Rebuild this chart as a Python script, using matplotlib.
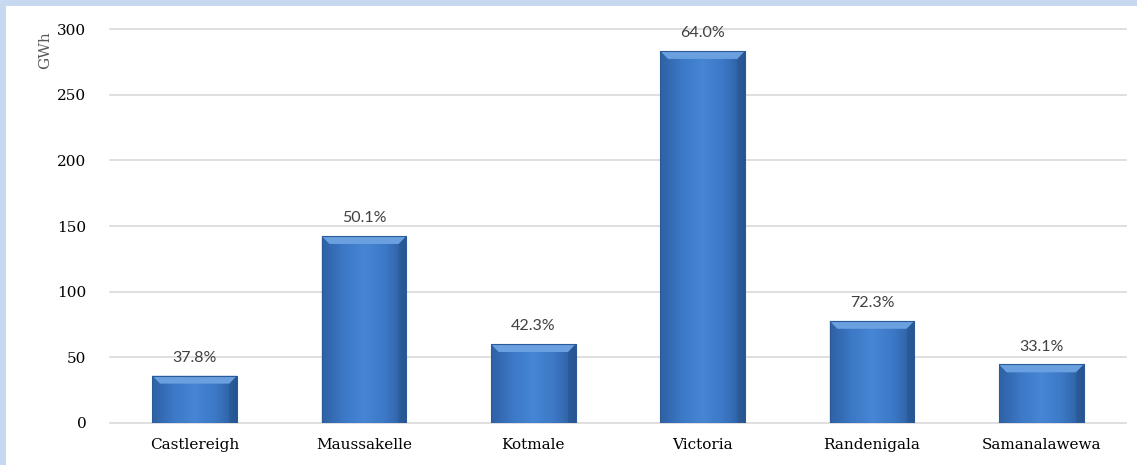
import matplotlib
matplotlib.use("Agg")
import matplotlib.pyplot as plt
import numpy as np
from matplotlib.colors import LinearSegmentedColormap
from matplotlib.patches import Polygon, Rectangle

categories = ["Castlereigh", "Maussakelle", "Kotmale", "Victoria", "Randenigala", "Samanalawewa"]
values = [35.8, 142.3, 59.9, 283.4, 77.6, 44.4]
pct_labels = ["37.8%", "50.1%", "42.3%", "64.0%", "72.3%", "33.1%"]
yticks = [0, 50, 100, 150, 200, 250, 300]

W, H = 1137, 465
fig = plt.figure(figsize=(W / 100, H / 100), dpi=100)
fig.patch.set_facecolor("#C6D9F0")
# white inner panel (blue strip only at left and top)
fig.patches.append(Rectangle((6 / W, 0), 1, 1 - 6 / H, transform=fig.transFigure,
                             facecolor="white", edgecolor="none", zorder=-10))

ax = fig.add_axes([110 / W, (H - 422.7) / H, (1126 - 110) / W, (422.7 - 29.3) / H])
ax.set_facecolor("none")
x = np.arange(len(categories))
bw = 0.5

cmap = LinearSegmentedColormap.from_list(
    "barh", ["#2D60A2", "#3C78C6", "#4686D4", "#3C78C6", "#2B5A98"])
grad = np.linspace(0, 1, 256).reshape(1, -1)

bars = ax.bar(x, values, width=bw, color="#3C78C6", edgecolor="#2B5A96",
              linewidth=0.6, zorder=2)
bev_h = 6.0
bev_w = 0.045
for b, v in zip(bars, values):
    x0 = b.get_x()
    x1 = x0 + b.get_width()
    im = ax.imshow(grad, cmap=cmap, extent=[x0, x1, 0, v], aspect="auto",
                   zorder=2.5, interpolation="bicubic")
    im.set_clip_path(b)
    top = Polygon([[x0, v], [x1, v], [x1 - bev_w, v - bev_h], [x0 + bev_w, v - bev_h]],
                  closed=True, facecolor="#6A9FE0", edgecolor="none", zorder=3)
    ax.add_patch(top)
    left = Polygon([[x0, v], [x0 + bev_w, v - bev_h], [x0 + bev_w, 0], [x0, 0]],
                   closed=True, facecolor="#3468AE", edgecolor="none", zorder=3, alpha=0.35)
    right = Polygon([[x1, v], [x1 - bev_w, v - bev_h], [x1 - bev_w, 0], [x1, 0]],
                    closed=True, facecolor="#234E88", edgecolor="none", zorder=3, alpha=0.4)
    ax.add_patch(left)
    ax.add_patch(right)
    ax.add_patch(Rectangle((x0, 0), b.get_width(), v, facecolor="none",
                           edgecolor="#2B5A96", linewidth=0.8, zorder=3.5))

ax.set_xlim(-0.5, len(categories) - 0.5)
ax.set_ylim(0, 300)
ax.set_yticks(yticks)
ax.set_xticks(x)
ax.set_xticklabels(categories)
for s in ax.spines.values():
    s.set_visible(False)
ax.tick_params(length=0)
ax.tick_params(axis="y", pad=17)
ax.tick_params(axis="x", pad=11)
for lab in ax.get_xticklabels() + ax.get_yticklabels():
    lab.set_fontfamily("DejaVu Serif")
    lab.set_color("#000000")
    lab.set_fontsize(11)
ax.grid(axis="y", color="#D9D9D9", linewidth=1.2)
ax.set_axisbelow(True)
for gl in ax.get_ygridlines():
    gl.set_clip_on(False)

for xi, v, lab in zip(x, values, pct_labels):
    ax.annotate(lab, (xi, v), xytext=(0, 10), textcoords="offset points",
                ha="center", va="baseline", fontsize=11.5, color="#404040",
                family="Lato")

fig.text(45 / W, 1 - 50 / H, "GWh", rotation=90, ha="center", va="center",
         fontsize=11, color="#595959", family="DejaVu Serif")

fig.savefig("out.png", dpi=100)
